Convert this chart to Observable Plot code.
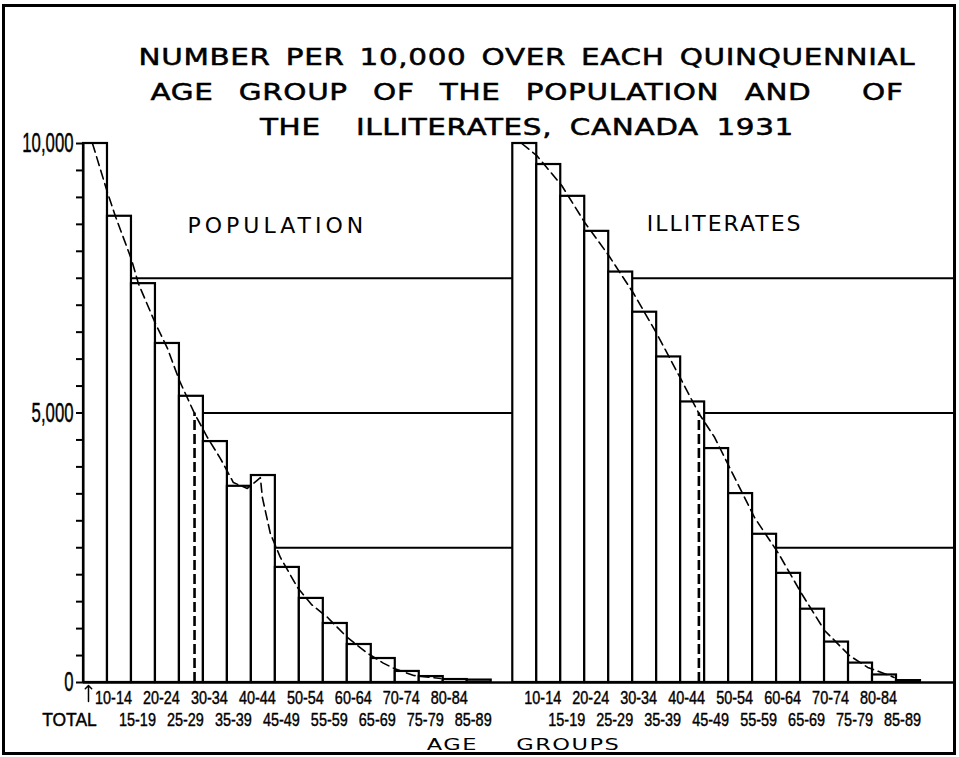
<!DOCTYPE html>
<html>
<head>
<meta charset="utf-8">
<script src="https://cdn.jsdelivr.net/npm/d3@7"></script>
<script src="https://cdn.jsdelivr.net/npm/@observablehq/plot@0.6"></script>
<style>
  html, body { margin: 0; padding: 0; background: #fff; overflow: hidden; }
  #wrap { position: relative; width: 959px; height: 757px; overflow: hidden; background: #fff; }
  #frame { position: absolute; left: 2px; top: 4px; width: 954px; height: 751px; border: 3px solid #000; box-sizing: border-box; pointer-events: none; z-index: 3; }
  #title { position: absolute; left: 95px; top: 40px; width: 864px; text-align: center; font-family: "DejaVu Sans", sans-serif; font-size: 23px; line-height: 35px; color: #000; z-index: 2; -webkit-text-stroke: 0.5px #000; }
  #title div { transform: scaleX(1.28); letter-spacing: 0.5px; word-spacing: 4px; white-space: pre; }
  #title div.l2 { word-spacing: 12px; }
  #title div.l3 { word-spacing: 6px; }
  #chart { position: absolute; left: 0; top: 135px; }
  #xlabel { position: absolute; left: 0; top: 735px; width: 1048px; text-align: center; line-height: 20px; font-family: "DejaVu Sans", sans-serif; font-size: 15px; color: #000; z-index: 2; }
  #xlabel span { display: inline-block; transform: scaleX(1.5); letter-spacing: 1px; word-spacing: 7px; white-space: pre; }
</style>
</head>
<body>
<div id="wrap">
  <div id="title"></div>
  <div id="chart"></div>
  <div id="xlabel"></div>
  <div id="frame"></div>
</div>
<script>
// ---------------- data ----------------
const titleLines = [
  "NUMBER PER 10,000 OVER EACH QUINQUENNIAL",
  "AGE GROUP OF THE POPULATION AND  OF",
  "THE  ILLITERATES, CANADA 1931"
];
const xAxisTitle = "AGE  GROUPS";
const panelNames = ["POPULATION", "ILLITERATES"];
const ageGroups = ["TOTAL", "10-14", "15-19", "20-24", "25-29", "30-34", "35-39", "40-44", "45-49",
                   "50-54", "55-59", "60-64", "65-69", "70-74", "75-79", "80-84", "85-89"];
// number per 10,000 over each age group
const population  = [10000, 8650, 7400, 6290, 5310, 4470, 3640, 3840, 2135, 1560, 1095, 705, 445, 205, 110, 55, 45];
const illiterates = [10000, 9610, 9020, 8370, 7615, 6870, 6040, 5205, 4340, 3505, 2750, 2025, 1360, 750, 360, 140, 35];
// dashed smooth curves (position in bar widths from panel start, value)
const populationCurvePos = [0.375, 1.0, 1.33, 2.0, 2.29, 3.0, 3.5, 4.0, 4.63, 5.17, 5.71, 6.25, 6.83, 7.375, 7.46, 7.79, 8.21, 8.92, 9.5, 10.18, 11.0, 11.85, 12.5, 12.93, 13.77, 14.9];
const populationCurveVal = [10000, 9090, 8650, 7850, 7400, 6660, 6200, 5600, 4990, 4545, 4155, 3710, 3600, 3800, 3430, 2765, 2320, 1765, 1450, 1206, 835, 540, 360, 265, 130, 74];
const illiteratesCurvePos = [0.375, 1.0, 2.04, 3.0, 4.0, 5.04, 6.0, 7.04, 7.76, 8.42, 9.04, 10.08, 11.08, 12.04, 13.0, 14.04, 14.8, 15.9];
const illiteratesCurveVal = [10000, 9777, 9221, 8534, 7922, 7217, 6475, 5603, 4991, 4545, 3989, 3061, 2393, 1651, 965, 500, 280, 95];
// median positions (where the curve crosses 5,000)
const medianPositions = [4.63, 7.76];
const gridValues = [2500, 5000, 7500];
const yTickValues = d3.range(0, 10001, 500);
const yLabelValues = [0, 5000, 10000];

// ---------------- layout ----------------
const PANEL_OFFSETS = [0, 17.9];
const X_MAX = 36.36;

const panelSeries = [
  {name: panelNames[0], values: population, cp: populationCurvePos, cv: populationCurveVal, showTotal: true},
  {name: panelNames[1], values: illiterates, cp: illiteratesCurvePos, cv: illiteratesCurveVal, showTotal: false}
].map((p, k) => ({...p, offset: PANEL_OFFSETS[k], median: medianPositions[k]}));

const bars = panelSeries.flatMap(p => p.values.map((v, i) => ({
  panel: p.name, i, x1: p.offset + i, x2: p.offset + i + 1, xc: p.offset + i + 0.5, value: v, label: ageGroups[i], showTotal: p.showTotal
})));
const curve = panelSeries.flatMap(p => p.cp.map((pos, k) => ({panel: p.name, x: p.offset + pos, value: p.cv[k]})));
const medians = panelSeries.map(p => ({x: p.offset + p.median}));
const row1 = bars.filter(b => b.i % 2 === 1);
const row2 = bars.filter(b => b.i % 2 === 0 && b.i > 0);
const totals = bars.filter(b => b.i === 0 && b.showTotal);
const panelMid = p => p.offset + p.values.length / 2;

// ---------------- title ----------------
const titleEl = document.getElementById("title");
titleLines.forEach((t, k) => {
  const d = document.createElement("div");
  d.className = "l" + (k + 1);
  d.textContent = t;
  titleEl.appendChild(d);
});
const xl = document.createElement("span");
xl.textContent = xAxisTitle;
document.getElementById("xlabel").appendChild(xl);

// ---------------- chart ----------------
const heavy = {stroke: "black", strokeWidth: 0.45, fill: "black"};
const chart = Plot.plot({
  width: 959,
  height: 622,
  marginLeft: 83,
  marginRight: 4,
  marginTop: 8,
  marginBottom: 75,
  x: {domain: [0, X_MAX], axis: null},
  y: {domain: [0, 10000], axis: null},
  style: {fontFamily: "'Liberation Sans', Arial, sans-serif", background: "white", color: "black", overflow: "visible"},
  marks: [
    Plot.ruleY(gridValues, {stroke: "black", strokeWidth: 2}),
    Plot.rect(bars, {x1: "x1", x2: "x2", y1: 0, y2: "value", fill: "white", stroke: "black", strokeWidth: 2.2}),
    Plot.line(curve, {x: "x", y: "value", z: "panel", stroke: "black", strokeWidth: 1.6, strokeDasharray: "9,5"}),
    Plot.ruleX(medians, {x: "x", y1: 0, y2: 5000, stroke: "black", strokeWidth: 2.6, strokeDasharray: "10,4"}),
    Plot.ruleX([0], {stroke: "black", strokeWidth: 2}),
    Plot.ruleY([0], {stroke: "black", strokeWidth: 2.5}),
    Plot.axisY({anchor: "left", ticks: yTickValues, tickSize: 7, tickFormat: () => "", label: null, strokeWidth: 2}),
    Plot.text(yLabelValues, {frameAnchor: "left", y: d => d, text: d => d3.format(",")(d), textAnchor: "end", dx: -10, fontSize: 27, ...heavy}),
    Plot.text(row1, {x: "xc", y: 0, text: "label", dx: -6, dy: 15, fontSize: 19, ...heavy}),
    Plot.text(row2, {x: "xc", y: 0, text: "label", dx: -6, dy: 37, fontSize: 19, ...heavy}),
    Plot.text(totals, {x: "xc", y: 0, text: "label", dx: -26, dy: 37, fontSize: 19, ...heavy}),
    Plot.vector(totals, {x: "xc", y: 0, length: 16, rotate: 0, anchor: "start", dx: -7, dy: 19, stroke: "black", strokeWidth: 1.5}),
    Plot.text(panelSeries.slice(0, 1), {x: panelMid, frameAnchor: "top", dy: 74, text: "name", fontSize: 22, fontFamily: "DejaVu Sans", dx: -10}),
    Plot.text(panelSeries.slice(1), {x: panelMid, frameAnchor: "top", dy: 72, text: "name", fontSize: 22, fontFamily: "DejaVu Sans", dx: 8})
  ]
});
document.getElementById("chart").appendChild(chart);

// condensed hand-lettered look for numbers, spacing for panel names
const yLabelSet = new Set(yLabelValues.map(d => d3.format(",")(d)));
chart.querySelectorAll("text").forEach(t => {
  const s = t.textContent;
  let f = null;
  if (yLabelSet.has(s)) f = 0.62;
  else if (s === "TOTAL") f = 0.92;
  else if (/^\d+-\d+$/.test(s)) f = 0.76;
  if (f) {
    const w = t.getComputedTextLength();
    t.setAttribute("textLength", (w * f).toFixed(1));
    t.setAttribute("lengthAdjust", "spacingAndGlyphs");
  }
  if (s === panelNames[0]) t.style.letterSpacing = "4px";
  if (s === panelNames[1]) t.style.letterSpacing = "2px";
});
</script>
</body>
</html>
